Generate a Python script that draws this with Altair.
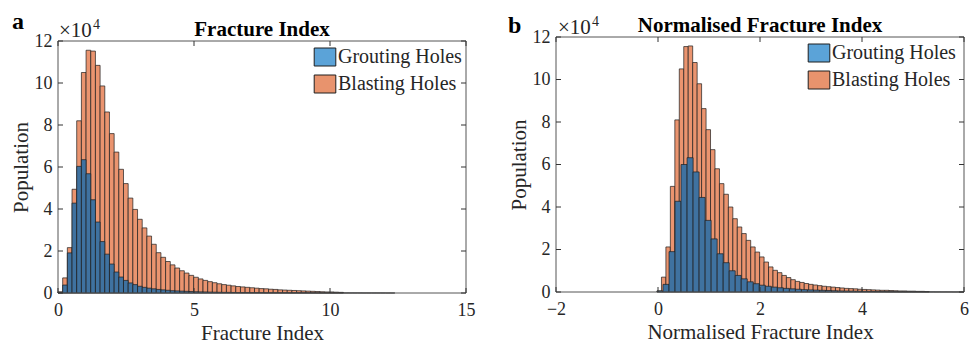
import altair as alt
import pandas as pd

FONT = "Liberation Serif"
TXT = "#262626"
EDGE = "#1e1e1e"
FRAME = "#555555"
ORANGE = "#EA946F"
BLUE_BAR = "#3F72A0"
LEG_BLUE = "#5BA3D8"
LEG_ORANGE = "#E8936D"

series_names = ["Grouting Holes", "Blasting Holes"]

# Panel a: Fracture Index (counts in units of 10^4)
fi_bin_start = 0.0
fi_bin_width = 0.172
fi_blasting = [0.06, 0.72, 2.16, 4.94, 8.20, 10.50, 11.56, 11.52, 10.84, 9.86,
               8.62, 7.59, 6.71, 5.89, 5.21, 4.52, 3.98, 3.51, 3.10, 2.71,
               2.32, 1.92, 1.70, 1.50, 1.34, 1.19, 1.06, 0.95, 0.84, 0.75,
               0.67, 0.60, 0.54, 0.49, 0.44, 0.40, 0.37, 0.34, 0.31, 0.29,
               0.27, 0.25, 0.23, 0.21, 0.20, 0.18, 0.17, 0.15, 0.14, 0.13,
               0.12, 0.11, 0.10, 0.09, 0.08, 0.07, 0.06, 0.05, 0.05, 0.04, 0.03]
fi_grouting = [0.02, 0.38, 1.91, 4.28, 6.03, 6.35, 5.68, 4.44, 3.38, 2.45,
               1.85, 1.38, 1.00, 0.76, 0.60, 0.48, 0.40, 0.32, 0.27, 0.23,
               0.20, 0.17, 0.15, 0.13, 0.11, 0.10, 0.09, 0.08, 0.07, 0.06,
               0.055, 0.05, 0.045, 0.04, 0.035, 0.03, 0.03, 0.025, 0.02, 0.02,
               0.02, 0.015, 0.015, 0.015, 0.01, 0.01, 0.01, 0.01, 0.01, 0.008,
               0.008, 0.007, 0.007, 0.006, 0.006, 0.005, 0.005, 0.005, 0.004, 0.004,
               0.004, 0.003, 0.003, 0.003, 0.003, 0.002, 0.002, 0.002, 0.002, 0.002,
               0.001, 0.001]
fi_xticks = [0, 5, 10, 15]

# Panel b: Normalised Fracture Index (counts in units of 10^4)
nfi_bin_start = -0.02
nfi_blasting_width = 0.0875
nfi_grouting_width = 0.118
nfi_blasting = [0.05, 0.70, 2.12, 4.97, 8.10, 10.50, 11.55, 11.58, 10.80, 9.80,
                8.63, 7.64, 6.70, 5.80, 5.10, 4.60, 4.00, 3.45, 3.06, 2.75,
                2.43, 2.12, 1.88, 1.65, 1.41, 1.18, 1.02, 0.91, 0.78, 0.68,
                0.58, 0.50, 0.45, 0.40, 0.36, 0.33, 0.30, 0.27, 0.25, 0.23,
                0.21, 0.19, 0.17, 0.16, 0.15, 0.13, 0.12, 0.11, 0.10, 0.09,
                0.08, 0.08, 0.07, 0.06, 0.05, 0.05, 0.04, 0.04, 0.03, 0.03, 0.02]
nfi_grouting = [0.05, 0.36, 1.90, 4.27, 6.00, 6.32, 5.65, 4.45, 3.37, 2.50,
                1.80, 1.38, 1.00, 0.78, 0.62, 0.48, 0.39, 0.32, 0.27, 0.23,
                0.20, 0.17, 0.15, 0.13, 0.11, 0.10, 0.09, 0.08, 0.07, 0.06,
                0.05, 0.045, 0.04, 0.035, 0.03, 0.025, 0.02, 0.02, 0.015, 0.015,
                0.01, 0.01, 0.008, 0.007, 0.006, 0.005, 0.004, 0.003, 0.003, 0.002, 0.002]
nfi_xticks = [-2, 0, 2, 4, 6]

y_ticks = [0, 2, 4, 6, 8, 10, 12]

W = 408


def hist_df(start, width, counts):
    return pd.DataFrame({
        "x0": [start + i * width for i in range(len(counts))],
        "x1": [start + (i + 1) * width for i in range(len(counts))],
        "count": counts,
    })


def text_layer(t, x, y, size, weight="normal", color=TXT, align="left"):
    return alt.Chart(pd.DataFrame({"t": [t]})).mark_text(
        font=FONT, fontSize=size, fontWeight=weight, align=align, baseline="alphabetic",
        color=color).encode(x=alt.value(x), y=alt.value(y), text="t:N")


def panel(letter, title, xtitle, xdomain, xticks, b_df, g_df, H, top, letter_pos, exp_pos,
          sup_pos, title_y, legend_x):
    xs = alt.Scale(domain=xdomain, nice=False, zero=False)
    ys = alt.Scale(domain=[0, 12], nice=False, zero=True, range=[H, top])
    xax = alt.Axis(values=xticks, title=xtitle, tickSize=0, domain=False, grid=False,
                   labelPadding=8, titlePadding=3, labelFont=FONT, labelFontSize=18,
                   titleFont=FONT, titleFontSize=21, titleFontWeight="normal",
                   labelColor=TXT, titleColor=TXT, format="d", labelFlush=False)
    yax = alt.Axis(values=y_ticks, title="Population", tickSize=0, domain=False, grid=False,
                   labelPadding=6, titlePadding=3, labelFont=FONT, labelFontSize=18,
                   titleFont=FONT, titleFontSize=21, titleFontWeight="normal",
                   labelColor=TXT, titleColor=TXT, labelFlush=False)

    blasting = alt.Chart(b_df).mark_bar(color=ORANGE, stroke=EDGE, strokeWidth=0.7).encode(
        x=alt.X("x0:Q", scale=xs, axis=xax), x2="x1:Q",
        y=alt.Y("count:Q", scale=ys, axis=yax), y2=alt.datum(0))
    grouting = alt.Chart(g_df).mark_bar(color=BLUE_BAR, stroke=EDGE, strokeWidth=0.7).encode(
        x=alt.X("x0:Q", scale=xs), x2="x1:Q", y=alt.Y("count:Q", scale=ys), y2=alt.datum(0))

    leg_df = pd.DataFrame({"series": series_names})
    legend = alt.Chart(leg_df).mark_square(opacity=0, stroke=EDGE, strokeWidth=1).encode(
        x=alt.value(0), y=alt.value(0),
        color=alt.Color("series:N",
                        scale=alt.Scale(domain=series_names, range=[LEG_BLUE, LEG_ORANGE]),
                        legend=alt.Legend(orient="none", legendX=legend_x, legendY=top + 6,
                                          title=None,
                                          symbolType="M-1.2,-1L1.2,-1L1.2,1L-1.2,1Z",
                                          symbolSize=324, symbolOpacity=1,
                                          symbolStrokeColor=EDGE, symbolStrokeWidth=1,
                                          labelFont=FONT, labelFontSize=20, labelColor=TXT,
                                          labelOffset=3, rowPadding=5, padding=0)))

    frame = alt.Chart(pd.DataFrame({"f": [0]})).mark_rect(
        fillOpacity=0, stroke=FRAME, strokeWidth=1).encode(
        x=alt.value(0), x2=alt.value(W), y=alt.value(top), y2=alt.value(H))

    xt_df = pd.DataFrame({"v": xticks})
    yt_df = pd.DataFrame({"v": y_ticks})
    tick_style = dict(color="#333", strokeWidth=1)
    xt_bottom = alt.Chart(xt_df).mark_rule(**tick_style).encode(
        x=alt.X("v:Q", scale=xs), y=alt.value(H), y2=alt.value(H - 5))
    xt_top = alt.Chart(xt_df).mark_rule(**tick_style).encode(
        x=alt.X("v:Q", scale=xs), y=alt.value(top), y2=alt.value(top + 5))
    yt_left = alt.Chart(yt_df).mark_rule(**tick_style).encode(
        y=alt.Y("v:Q", scale=ys), x=alt.value(0), x2=alt.value(5))
    yt_right = alt.Chart(yt_df).mark_rule(**tick_style).encode(
        y=alt.Y("v:Q", scale=ys), x=alt.value(W), x2=alt.value(W - 5))

    letter_txt = text_layer(letter, letter_pos[0], letter_pos[1], 24, "bold", "black")
    title_txt = text_layer(title, W / 2, title_y, 21, "bold", "black", align="center")
    exp_base = text_layer("\u00d710", exp_pos[0], exp_pos[1], 21)
    exp_sup = text_layer("4", sup_pos[0], sup_pos[1], 14)

    return alt.layer(blasting, grouting, frame, xt_bottom, xt_top, yt_left, yt_right,
                     legend, letter_txt, title_txt, exp_base, exp_sup).properties(
        width=W, height=H)


left = panel("a", "Fracture Index", "Fracture Index", [0, 15], fi_xticks,
             hist_df(fi_bin_start, fi_bin_width, fi_blasting),
             hist_df(fi_bin_start, fi_bin_width, fi_grouting),
             252, 0, (-46, -12), (1, -4), (35, -12), -5, 257)
right = panel("b", "Normalised Fracture Index", "Normalised Fracture Index", [-2, 6], nfi_xticks,
              hist_df(nfi_bin_start, nfi_blasting_width, nfi_blasting),
              hist_df(nfi_bin_start, nfi_grouting_width, nfi_grouting),
              251, -4, (-48, -8), (2, -7), (36, -15), -9, 253)

chart = alt.concat(left, right, columns=2, spacing=33, align="none").resolve_scale(
    color="independent", x="independent", y="independent").resolve_legend(
    color="independent").configure_view(strokeWidth=0).properties(
    padding={"left": 2, "top": 2, "right": 2, "bottom": 0})

chart.save("out.html", embed_options={"renderer": "svg", "actions": False})
